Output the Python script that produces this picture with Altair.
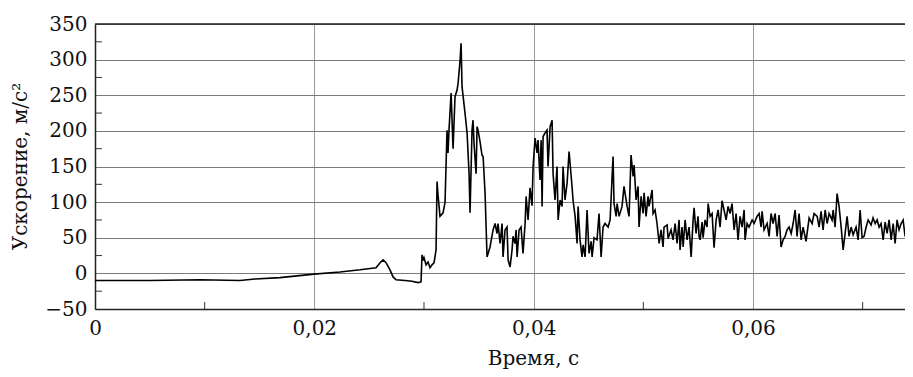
import altair as alt
import pandas as pd

# ---- data (time in ms, acceleration in m/s^2) ----
t_pre = [0, 5.02, 9.58, 13.22, 14.59, 16.87, 19.97, 22.34, 24.17, 25.63,
         25.99, 26.27, 26.54, 26.90, 27.18, 27.45, 28.27, 28.91, 29.46, 29.73]
a_pre = [-10, -10, -9, -10, -8, -6, -1, 2, 5, 8,
         15, 19, 15, 5, -5, -9, -10, -11, -13, -12]

t_peak = [29.82, 29.91, 30.00, 30.19, 30.37, 30.55, 30.73, 30.92, 31.10, 31.19,
          31.28, 31.46, 31.74, 31.92, 32.10, 32.19, 32.28, 32.47, 32.65, 32.83,
          33.01, 33.11, 33.29, 33.38, 33.47, 33.74, 33.93, 34.11, 34.20, 34.38,
          34.47, 34.56, 34.75, 34.84, 34.93, 35.11, 35.29, 35.39, 35.57, 35.75]
a_peak = [26, 18, 22, 12, 16, 8, 12, 15, 33, 129,
          110, 80, 85, 100, 201, 169, 201, 253, 175, 248,
          257, 267, 299, 323, 262, 225, 197, 140, 85, 201,
          215, 183, 140, 206, 201, 185, 166, 164, 112, 23]

t_second = [36.02, 36.30, 36.48, 36.66, 36.75, 36.94, 37.12, 37.21, 37.39, 37.57,
            37.67, 37.85, 38.03, 38.12, 38.30, 38.40, 38.49, 38.67, 38.85, 39.03,
            39.22, 39.31, 39.49, 39.67, 39.85, 39.95, 40.13, 40.31, 40.40, 40.58,
            40.68, 40.77, 40.86, 41.04, 41.22, 41.31, 41.50, 41.68, 41.77, 41.95,
            42.13, 42.23, 42.41, 42.59, 42.68, 42.86, 43.05, 43.23, 43.50, 43.59,
            43.78, 43.96, 44.05, 44.23, 44.41, 44.51, 44.69, 44.87, 45.05, 45.24,
            45.33, 45.51, 45.78, 45.96, 46.15, 46.33, 46.51, 46.79, 46.97]
a_second = [37, 61, 70, 56, 70, 42, 70, 23, 61, 65,
            19, 9, 33, 52, 42, 61, 23, 61, 65, 28,
            70, 108, 75, 120, 95, 150, 190, 169, 187, 131,
            187, 94, 192, 197, 201, 150, 206, 215, 140, 103,
            150, 75, 103, 94, 150, 103, 127, 171, 122, 103,
            80, 42, 94, 47, 23, 40, 23, 89, 28, 45,
            23, 50, 47, 84, 23, 65, 70, 65, 75]

t_third = [47.24, 47.33, 47.52, 47.61, 47.79, 48.06, 48.24, 48.52, 48.70, 48.88,
           49.07, 49.16, 49.34, 49.52, 49.61, 49.80, 49.98, 50.07, 50.25, 50.43,
           50.52, 50.80, 50.89, 51.07, 51.25, 51.44, 51.62, 51.80, 51.89, 52.17,
           52.26, 52.53, 52.71, 52.90, 53.08, 53.26, 53.35, 53.53, 53.63, 53.81,
           53.99, 54.17, 54.36, 54.54, 54.63, 54.81, 54.99, 55.08]
a_third = [164, 98, 80, 98, 80, 94, 122, 94, 80, 166,
           136, 152, 103, 122, 65, 108, 84, 113, 80, 108,
           94, 117, 84, 89, 70, 42, 61, 37, 65, 68,
           49, 61, 47, 70, 42, 75, 33, 65, 37, 75,
           47, 65, 23, 75, 92, 56, 80, 52]

t_tail1 = [55.18, 55.36, 55.45, 55.63, 55.81, 55.91, 56.09, 56.27, 56.45, 56.64,
           56.82, 57.00, 57.18, 57.36, 57.55, 57.73, 57.91, 58.09, 58.28, 58.46,
           58.64, 58.82, 59.01, 59.19, 59.28, 59.46, 59.64, 59.92, 60.10, 60.37,
           60.56, 60.74, 60.83, 61.01, 61.29, 61.47, 61.65, 61.83, 62.02, 62.20,
           62.38, 62.56, 62.75, 62.93, 63.11, 63.29, 63.48, 63.66, 63.84, 64.02,
           64.20, 64.39, 64.57, 64.84, 65.12]
a_tail1 = [47, 72, 50, 75, 65, 98, 80, 84, 36, 75,
           89, 65, 102, 89, 75, 94, 84, 98, 61, 84,
           47, 80, 65, 89, 47, 70, 65, 75, 70, 80,
           84, 65, 87, 61, 70, 52, 84, 70, 84, 52,
           82, 37, 47, 52, 61, 65, 56, 70, 89, 52,
           84, 47, 65, 45, 78]

t_tail2 = [65.39, 65.57, 65.85, 66.03, 66.21, 66.39, 66.58, 66.76, 66.94, 67.21,
           67.31, 67.49, 67.67, 67.85, 68.04, 68.22, 68.40, 68.58, 68.76, 68.95,
           69.13, 69.40, 69.59, 69.77, 69.95, 70.13, 70.32, 70.50, 70.77, 70.95,
           71.14, 71.32, 71.50, 71.68, 71.87, 72.05, 72.23, 72.41, 72.60, 72.78,
           72.96, 73.14, 73.32, 73.51, 73.69, 73.87, 74.05, 74.24, 74.42, 74.60]
a_tail2 = [70, 84, 80, 65, 87, 61, 89, 70, 84, 75,
           89, 65, 112, 94, 65, 33, 56, 80, 52, 65,
           54, 65, 47, 89, 50, 52, 65, 75, 68, 78,
           70, 75, 65, 70, 47, 72, 56, 75, 47, 70,
           42, 75, 61, 70, 75, 52, 70, 52, 72, 65]

x_ticks = [0, 0.02, 0.04, 0.06]
x_minor = [0.01, 0.03, 0.05, 0.07]
y_ticks = [-50, 0, 50, 100, 150, 200, 250, 300, 350]
y_minor = [-25, 25, 75, 125, 175, 225, 275, 325]
x_domain = [0, 0.0745]
y_domain = [-50, 350]

t_all = t_pre + t_peak + t_second + t_third + t_tail1 + t_tail2
a_all = a_pre + a_peak + a_second + a_third + a_tail1 + a_tail2
df = pd.DataFrame({"t": [v / 1000 for v in t_all], "a": a_all})

FONT = "DejaVu Serif"
X_TITLE = "Время, с"
Y_TITLE = "Ускорение, м/с²"
xscale = alt.Scale(domain=x_domain, nice=False, zero=False)
yscale = alt.Scale(domain=y_domain, nice=False, zero=False)

x_axis = alt.Axis(
    values=x_ticks,
    labelExpr="datum.value == 0 ? '0' : replace(format(datum.value, '.2f'), '.', ',')",
    labelFont=FONT, labelFontSize=20, labelColor="#111", labelPadding=9,
    labelFlush=False, ticks=False, tickSize=0,
    domainColor="#222", domainWidth=1.5,
    grid=True, gridColor="#9a9a9a", gridWidth=1,
    title=X_TITLE, titleFont=FONT, titleFontSize=20, titleFontWeight="normal",
    titleColor="#111", titleX=438, titleY=55, titleAlign="center",
    titleBaseline="alphabetic")
y_axis = alt.Axis(
    values=y_ticks,
    labelFont=FONT, labelFontSize=20, labelColor="#111", labelPadding=8,
    ticks=False, tickSize=0, labelFlush=False,
    domainColor="#222", domainWidth=1.5,
    grid=True, gridColor="#7a7a7a", gridWidth=1,
    title=Y_TITLE, titleFont=FONT, titleFontSize=20,
    titleFontWeight="normal", titleColor="#111",
    titleX=-75, titleY=142, titleAlign="center", titleBaseline="middle",
    titleAngle=270)

line = alt.Chart(df).mark_line(color="black", strokeWidth=1.6, clip=True).encode(
    x=alt.X("t:Q", scale=xscale, axis=x_axis),
    y=alt.Y("a:Q", scale=yscale, axis=y_axis),
)

minor_x = alt.Chart(pd.DataFrame({"v": x_minor})).mark_rule(
    color="#333", strokeWidth=1).encode(
    x=alt.X("v:Q", scale=xscale, axis=x_axis),
    y=alt.value(285), y2=alt.value(278))

minor_y = alt.Chart(pd.DataFrame({"v": y_minor})).mark_rule(
    color="#333", strokeWidth=1).encode(
    y=alt.Y("v:Q", scale=yscale, axis=y_axis),
    x=alt.value(0), x2=alt.value(7))

top_border = alt.Chart(pd.DataFrame({"v": [350]})).mark_rule(
    color="#222", strokeWidth=1.5).encode(
    y=alt.Y("v:Q", scale=yscale, axis=y_axis))

chart = alt.layer(line, minor_x, minor_y, top_border).properties(
    width=817, height=285,
    autosize=alt.AutoSizeParams(type="none"),
    padding={"left": 87, "top": 16, "right": -7, "bottom": 60},
).configure_view(strokeWidth=0).configure(background="white")

chart.save("out.html", embed_options={"renderer": "svg", "actions": False})
